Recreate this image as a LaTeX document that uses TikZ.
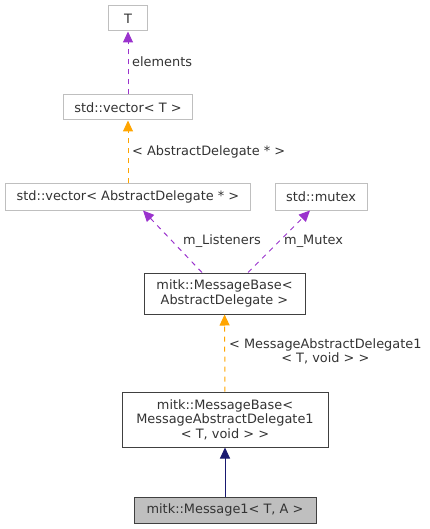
\documentclass[tikz,border=0pt]{standalone}
\usepackage{fontspec}
\setmainfont{DejaVu Sans}
\usetikzlibrary{arrows.meta}

\definecolor{edgepurple}{HTML}{9A32CD}
\definecolor{edgeorange}{HTML}{FFA500}
\definecolor{edgeblue}{HTML}{191970}
\definecolor{boxgray}{HTML}{BFBFBF}

\begin{document}
\begin{tikzpicture}[
  x=1pt, y=-1pt,
  font=\fontsize{12.9}{14.6}\selectfont,
  every node/.style={align=center, inner sep=0pt, text=black!80},
  extcls/.style={draw=boxgray, line width=1pt, fill=white, minimum height=25pt},
  cls/.style={draw=black!75, line width=1pt, fill=white},
  cur/.style={draw=black!75, line width=1pt, fill=boxgray, minimum height=26pt},
  lbl/.style={anchor=west},
  usage/.style={-{Triangle[length=11pt, width=10pt]}, dashed, dash pattern=on 5pt off 5pt,
                edgepurple, line width=1pt},
  tmpl/.style={-{Triangle[length=11pt, width=10pt]}, dashed, dash pattern=on 5pt off 5pt,
               edgeorange, line width=1pt},
  inherit/.style={-{Triangle[length=11pt, width=10pt]}, edgeblue, line width=1pt}
]
\useasboundingbox (0,0) rectangle (429,529);

\node[extcls, minimum width=39pt]  (t)      at (128,18.5) {T};
\node[extcls, minimum width=129pt] (vect)   at (128,107.5) {std::vector< T >};
\node[extcls, minimum width=245pt, minimum height=26pt] (vecad) at (128,197) {std::vector< AbstractDelegate * >};
\node[extcls, minimum width=92pt, minimum height=26pt]  (mutex) at (321,197) {std::mutex};
\node[cls, minimum width=161pt, minimum height=41pt]    (basead) at (224.5,293.5) {mitk::MessageBase<\\ AbstractDelegate >};
\node[cls, minimum width=206pt, minimum height=55pt]    (basemad) at (225,419.5) {mitk::MessageBase<\\ MessageAbstractDelegate1\\ < T, void > >};
\node[cur, minimum width=182pt] (msg) at (225,510) {mitk::Message1< T, A >};

\draw[usage] (vect) -- (t);
\draw[tmpl] (vecad) -- (vect);
\draw[usage] (basead.north -| 202,0) -- (vecad.south -| 143,0);
\draw[usage] (basead.north -| 248,0) -- (mutex.south -| 310,0);
\draw[tmpl] (basemad) -- (basead);
\draw[inherit] (msg) -- (basemad);

\node[lbl] (lelem) at (132,62) {elements};
\node[lbl] (ltmpl) at (132,152) {< AbstractDelegate * >};
\node[lbl] (llist) at (183,241) {m\_Listeners};
\node[lbl] (lmutex) at (284,241) {m\_Mutex};
\node[lbl] (lmad) at (229,351.5) {< MessageAbstractDelegate1\\ < T, void > >};

\end{tikzpicture}
\end{document}
